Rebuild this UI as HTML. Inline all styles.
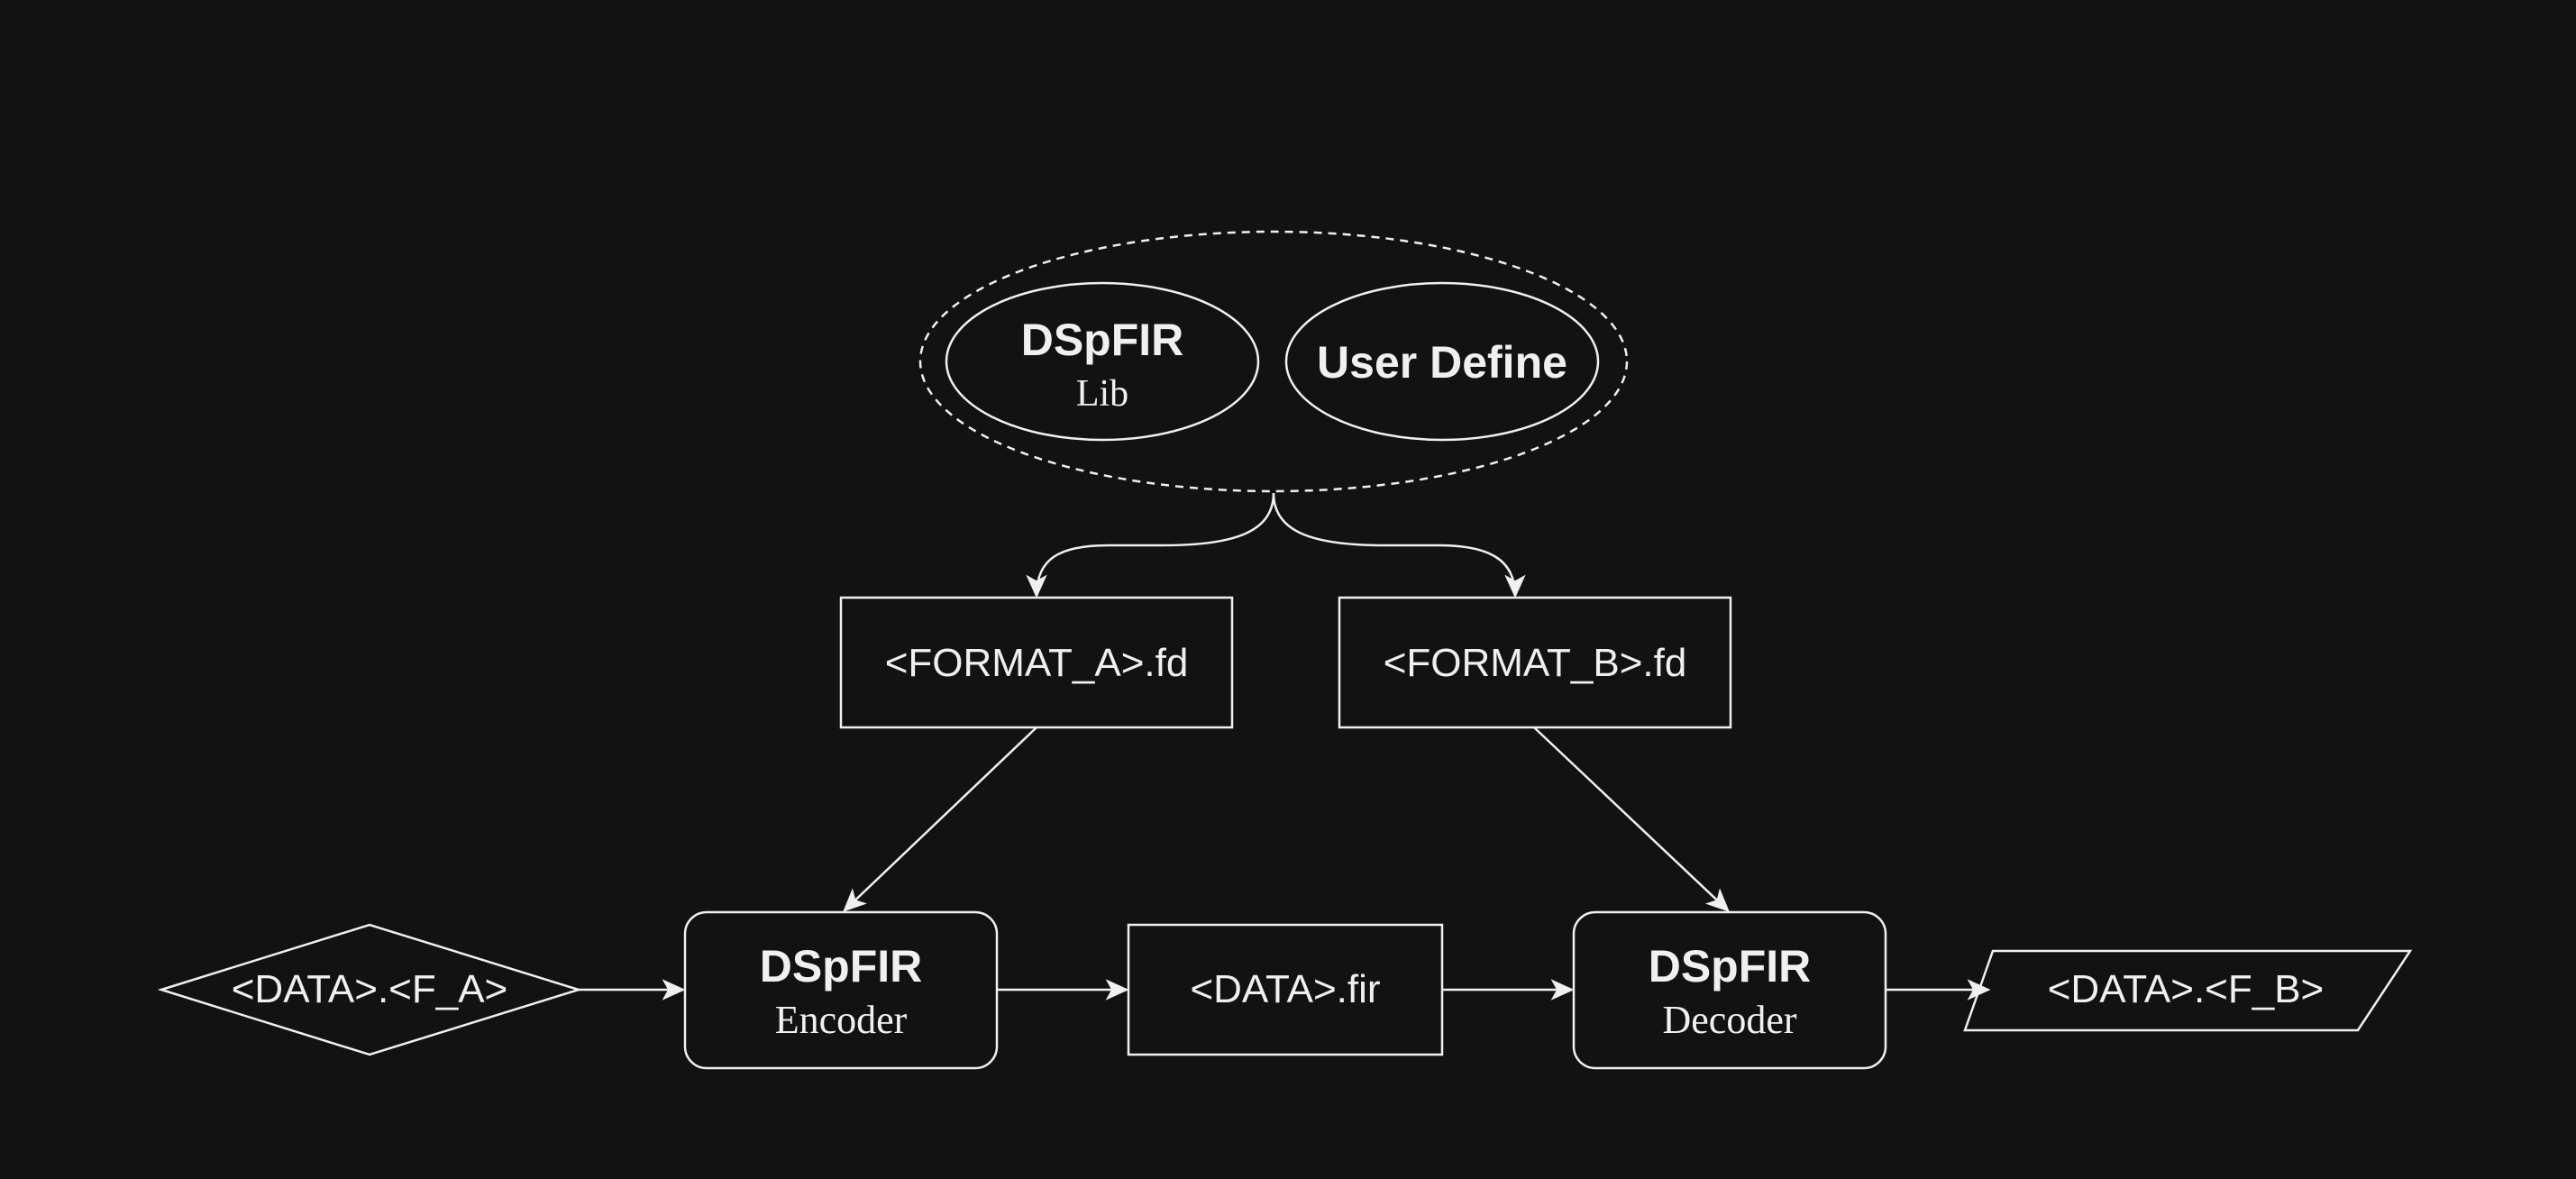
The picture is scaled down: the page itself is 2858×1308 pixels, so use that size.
<!DOCTYPE html>
<html><head><meta charset="utf-8"><style>
html,body{margin:0;padding:0;background:#121212;}
svg{display:block;}
.s{font-family:"Liberation Sans",sans-serif;fill:#f0f0f0;}
.r{font-family:"Liberation Serif",serif;fill:#f0f0f0;}
</style></head><body>
<svg width="2858" height="1308" viewBox="0 0 2858 1308" xmlns="http://www.w3.org/2000/svg">
<defs>
<marker id="a" viewBox="0 0 20 20" refX="18" refY="10" markerWidth="26" markerHeight="26" markerUnits="userSpaceOnUse" orient="auto">
<path d="M0,1 L20,10 L0,19 L5,10 Z" fill="#f0f0f0"/>
</marker>
</defs>
<rect width="2858" height="1308" fill="#121212"/>
<g fill="none" stroke="#f0f0f0" stroke-width="2.5">
<ellipse cx="1413" cy="401" rx="392" ry="144" stroke-dasharray="9 7"/>
<ellipse cx="1223" cy="401" rx="173" ry="87"/>
<ellipse cx="1600" cy="401" rx="173" ry="87"/>
<rect x="933" y="663" width="434" height="144"/>
<rect x="1486" y="663" width="434" height="144"/>
<rect x="760" y="1012" width="346" height="173" rx="24"/>
<rect x="1252" y="1026" width="348" height="144"/>
<rect x="1746" y="1012" width="346" height="173" rx="24"/>
<polygon points="179,1098 410,1026 642,1098 410,1170"/>
<polygon points="2211,1055 2674,1055 2616,1143 2180,1143"/>
<path d="M1413,547 C1413,590 1370,605 1290,605 L1230,605 C1175,605 1150,620 1150,661" marker-end="url(#a)"/>
<path d="M1413,547 C1413,590 1456,605 1536,605 L1596,605 C1651,605 1681,620 1681,661" marker-end="url(#a)"/>
<path d="M1150,807 L937,1010" marker-end="url(#a)"/>
<path d="M1702,807 L1917,1010" marker-end="url(#a)"/>
<path d="M642,1098 L758,1098" marker-end="url(#a)"/>
<path d="M1106,1098 L1250,1098" marker-end="url(#a)"/>
<path d="M1600,1098 L1744,1098" marker-end="url(#a)"/>
<path d="M2092,1098 L2206,1098" marker-end="url(#a)"/>
</g>
<g text-anchor="middle">
<text x="1223" y="394" class="s" font-size="50" font-weight="bold">DSpFIR</text>
<text x="1223" y="450" class="r" font-size="42">Lib</text>
<text x="1600" y="419" class="s" font-size="50" font-weight="bold">User Define</text>
<text x="1150" y="750" class="s" font-size="44">&lt;FORMAT_A&gt;.fd</text>
<text x="1703" y="750" class="s" font-size="44">&lt;FORMAT_B&gt;.fd</text>
<text x="933" y="1089" class="s" font-size="50" font-weight="bold">DSpFIR</text>
<text x="933" y="1146" class="r" font-size="44">Encoder</text>
<text x="1919" y="1089" class="s" font-size="50" font-weight="bold">DSpFIR</text>
<text x="1919" y="1146" class="r" font-size="44">Decoder</text>
<text x="1426" y="1112" class="s" font-size="44">&lt;DATA&gt;.fir</text>
<text x="410" y="1112" class="s" font-size="44">&lt;DATA&gt;.&lt;F_A&gt;</text>
<text x="2425" y="1112" class="s" font-size="44">&lt;DATA&gt;.&lt;F_B&gt;</text>
</g>
</svg>
</body></html>
